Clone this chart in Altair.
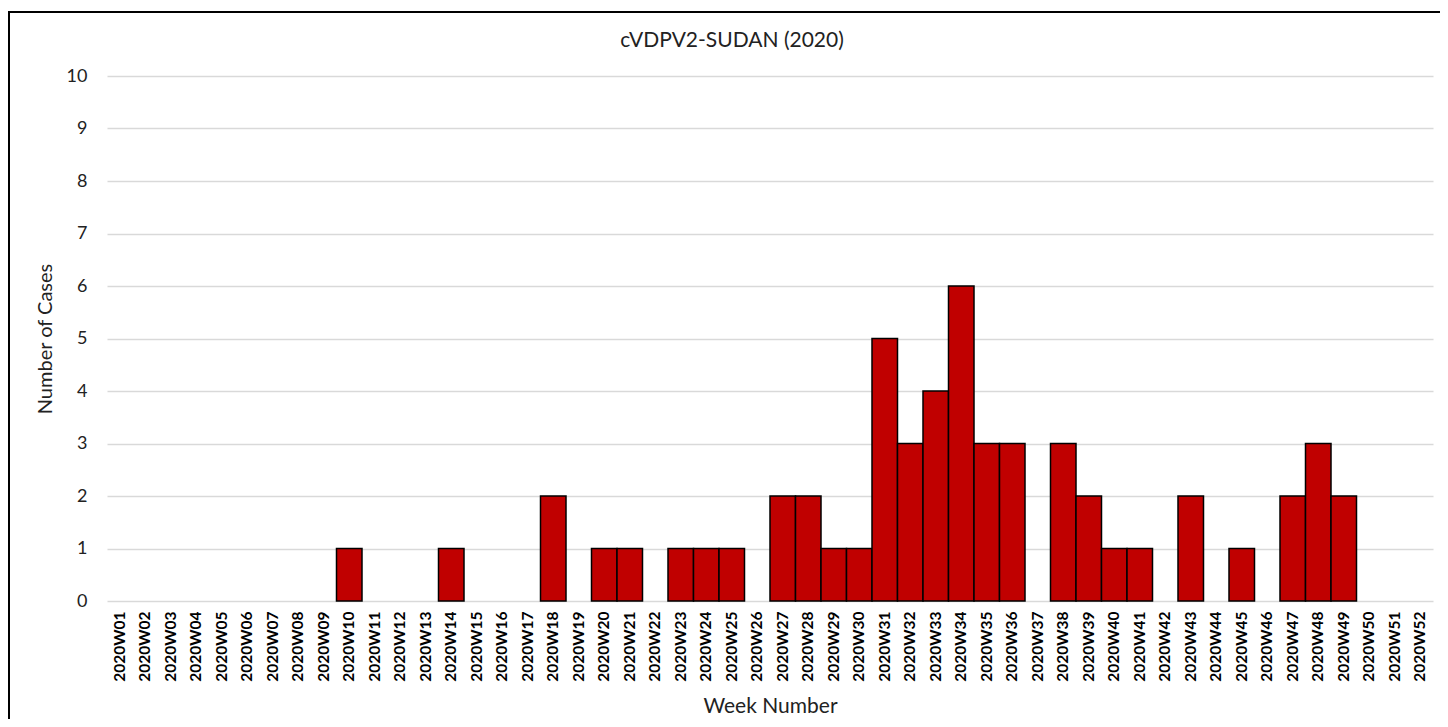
import altair as alt
import pandas as pd

weeks = [f"2020W{i:02d}" for i in range(1, 53)]
cases = [0, 0, 0, 0, 0, 0, 0, 0, 0, 1,
         0, 0, 0, 1, 0, 0, 0, 2, 0, 1,
         1, 0, 1, 1, 1, 0, 2, 2, 1, 1,
         5, 3, 4, 6, 3, 3, 0, 3, 2, 1,
         1, 0, 2, 0, 1, 0, 2, 3, 2, 0,
         0, 0]
chart_title = "cVDPV2-SUDAN (2020)"

df = pd.DataFrame({"week": weeks, "cases": cases})

W, H = 1326, 525
FONT = "Lato"

base = alt.Chart(df)

frame = base.mark_rect(fill=None, stroke="black", strokeWidth=2, clip=False).encode(
    x=alt.value(-98), x2=alt.value(W + 200), y=alt.value(-64), y2=alt.value(H + 300)
).transform_filter(alt.datum.week == "2020W01")

title_text = base.mark_text(font=FONT, fontSize=21, color="#222222",
                            align="center", baseline="middle", clip=False).encode(
    x=alt.value(625), y=alt.value(-35), text=alt.value(chart_title)
).transform_filter(alt.datum.week == "2020W01")

bars = base.mark_bar(color="#C00000", stroke="black", strokeWidth=1.5).encode(
    x=alt.X("week:N", sort=weeks,
            scale=alt.Scale(domain=weeks, paddingInner=0, paddingOuter=0),
            axis=alt.Axis(title="Week Number", labelAngle=270, labelAlign="right",
                          labelBaseline="middle", labelFont=FONT, labelFontWeight="bold",
                          labelFontSize=15.5, labelColor="black", labelPadding=10,
                          ticks=False, domain=False, grid=False,
                          titleFont=FONT, titleFontSize=21, titleFontWeight="normal",
                          titleColor="#222222", titleY=105, titleBaseline="middle")),
    y=alt.Y("cases:Q", scale=alt.Scale(domain=[0, 10]),
            axis=alt.Axis(title="Number of Cases", values=list(range(0, 11)),
                          labelFont=FONT, labelFontSize=18, labelColor="#222222",
                          labelPadding=20, ticks=False, domain=False,
                          grid=True, gridColor="#d9d9d9", gridWidth=1.5,
                          titleFont=FONT, titleFontSize=20, titleFontWeight="normal",
                          titleColor="#222222", titleX=-62, titleBaseline="middle")),
).transform_filter(alt.datum.cases > 0)

chart = alt.layer(frame, bars, title_text).properties(
    width=W, height=H,
    autosize=alt.AutoSizeParams(type="none"),
    padding={"left": 99, "top": 68, "right": 7, "bottom": 118},
).configure_view(stroke=None)

chart.save("out.html", embed_options={"renderer": "svg", "actions": False})
